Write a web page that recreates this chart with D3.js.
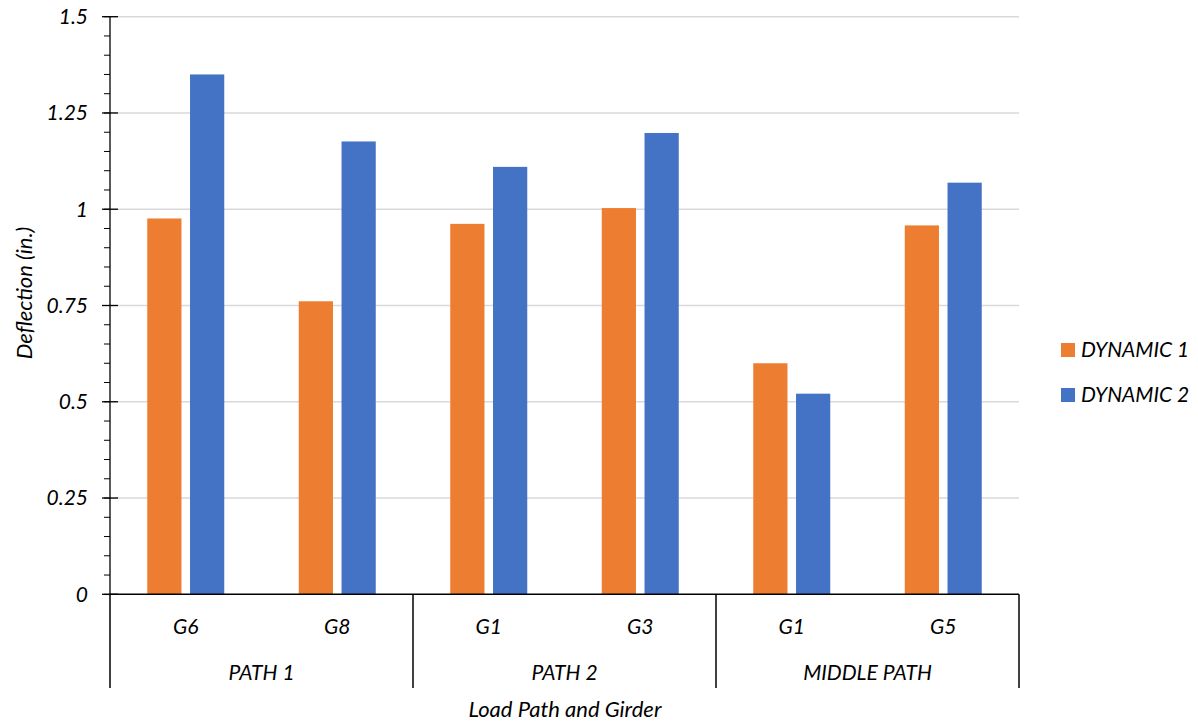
<!DOCTYPE html>
<html><head><meta charset="utf-8">
<script src="https://cdn.jsdelivr.net/npm/d3@7"></script>
<style>body{margin:0;background:#fff}text{font-family:Lato,"Open Sans",sans-serif;font-style:italic;fill:#000}</style>
</head><body><svg id="c" width="1198" height="721"></svg>
<script>
const girders = ["G6","G8","G1","G3","G1","G5"];
const paths = ["PATH 1","PATH 2","MIDDLE PATH"];
const seriesNames = ["DYNAMIC 1","DYNAMIC 2"];
const dynamic1 = [0.976, 0.761, 0.962, 1.003, 0.600, 0.958];
const dynamic2 = [1.350, 1.176, 1.110, 1.198, 0.521, 1.069];
const yTicks = [0, 0.25, 0.5, 0.75, 1, 1.25, 1.5];
const yTickLabels = ["0","0.25","0.5","0.75","1","1.25","1.5"];
const colors = ["#ED7D31","#4472C4"];

const svg = d3.select("#c");
const L=110, R=1019, T=16.7, B=594.3;
const x = d3.scaleBand().domain(d3.range(girders.length)).range([L,R]);
const xs = d3.scaleBand().domain([0,1]).range([0, 77]).paddingInner(0.2);
const y = d3.scaleLinear().domain([0,1.5]).range([B,T]);

// gridlines
svg.append("g").selectAll("line").data(yTicks.slice(1)).join("line")
  .attr("x1",L).attr("x2",R).attr("y1",d=>y(d)).attr("y2",d=>y(d))
  .attr("stroke","#d9d9d9").attr("stroke-width",1.5);

// bars
const series=[dynamic1,dynamic2];
series.forEach((vals,si)=>{
  svg.append("g").selectAll("rect").data(vals).join("rect")
    .attr("x",(d,i)=>x(i)+x.bandwidth()/2-38.5+xs(si))
    .attr("width",xs.bandwidth())
    .attr("y",d=>y(d)).attr("height",d=>B-y(d))
    .attr("fill",colors[si]);
});

// y axis minor ticks
const minor = d3.range(0,1.5001,0.05);
svg.append("g").selectAll("line").data(minor).join("line")
  .attr("x1",104).attr("x2",L).attr("y1",d=>y(d)).attr("y2",d=>y(d))
  .attr("stroke","#000").attr("stroke-width",1);
svg.append("g").selectAll("line").data(yTicks).join("line")
  .attr("x1",102).attr("x2",118).attr("y1",d=>y(d)).attr("y2",d=>y(d))
  .attr("stroke","#000").attr("stroke-width",1.3);
svg.append("line").attr("x1",L).attr("x2",L).attr("y1",T).attr("y2",B).attr("stroke","#000").attr("stroke-width",1.3);
svg.append("g").selectAll("text").data(yTicks).join("text")
  .attr("x",88).attr("y",d=>y(d)).attr("dy","0.35em").attr("text-anchor","end")
  .attr("font-size",21).text((d,i)=>yTickLabels[i]);

// x axis
svg.append("line").attr("x1",L).attr("x2",R).attr("y1",B).attr("y2",B).attr("stroke","#000").attr("stroke-width",1.5);
const pathX = d3.scaleBand().domain(d3.range(paths.length)).range([L,R]);
const seps = d3.range(paths.length+1).map(i=> i<paths.length ? pathX(i) : R);
svg.append("g").selectAll("line").data(seps).join("line")
  .attr("x1",d=>d).attr("x2",d=>d).attr("y1",B).attr("y2",688)
  .attr("stroke","#000").attr("stroke-width",1.5);
svg.append("g").selectAll("text").data(girders).join("text")
  .attr("x",(d,i)=>x(i)+x.bandwidth()/2).attr("y",627).attr("dy","0.35em")
  .attr("text-anchor","middle").attr("font-size",21).text(d=>d);
svg.append("g").selectAll("text").data(paths).join("text")
  .attr("x",(d,i)=>pathX(i)+pathX.bandwidth()/2).attr("y",673).attr("dy","0.35em")
  .attr("text-anchor","middle").attr("font-size",21).text(d=>d);

// axis titles
svg.append("text").attr("x",565).attr("y",709).attr("dy","0.35em").attr("text-anchor","middle")
  .attr("font-size",22).text("Load Path and Girder");
svg.append("text").attr("transform","translate(24,293) rotate(-90)").attr("dy","0.35em")
  .attr("text-anchor","middle").attr("font-size",22).text("Deflection (in.)");

// legend
const lg = svg.append("g").selectAll("g").data(seriesNames).join("g")
  .attr("transform",(d,i)=>`translate(1061,${350+i*45})`);
lg.append("rect").attr("x",0).attr("y",-7).attr("width",14).attr("height",14).attr("fill",(d,i)=>colors[i]);
lg.append("text").attr("x",20).attr("dy","0.35em").attr("font-size",21).text(d=>d);
</script></body></html>
